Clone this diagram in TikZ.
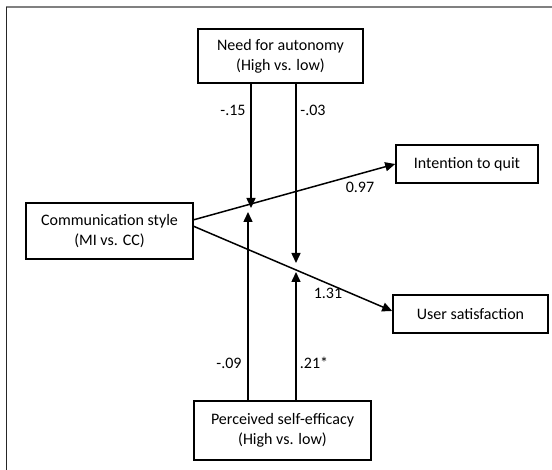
\documentclass[tikz,border=0pt]{standalone}
\usepackage{fontspec}
\setmainfont{Carlito}
\usetikzlibrary{arrows.meta}

\begin{document}
\begin{tikzpicture}[x=1pt,y=-1pt,
	box/.style={draw, line width=1.6pt, align=center, inner sep=0pt,
		font=\fontsize{16}{20}\selectfont},
	path/.style={line width=1.5pt, -{Triangle[length=10pt,width=9pt]}},
	coef/.style={font=\fontsize{16}{20}\selectfont, inner sep=0pt}]

			\useasboundingbox (0,0) rectangle (552,470);
			\draw[gray, line width=1.2pt] (6,7) -- (552,7);
			\draw[black!85, line width=1.5pt] (6.5,7) -- (6.5,470);

			\node[box, minimum width=165pt, minimum height=54pt] (autonomy) at (280.5,56) {Need for autonomy\\(High vs. low)};
			\node[box, minimum width=167pt, minimum height=56pt] (comm) at (109.5,231) {Communication style\\(MI vs. CC)};
			\node[box, minimum width=142pt, minimum height=38pt] (quit) at (467,164) {Intention to quit};
			\node[box, minimum width=155pt, minimum height=38pt] (satis) at (470.5,314) {User satisfaction};
			\node[box, minimum width=177pt, minimum height=59pt] (efficacy) at (282.5,430.5) {Perceived self-efficacy\\(High vs. low)};

			\coordinate (out1) at (193,220);
\coordinate (out2) at (193,226);
\coordinate (tipA) at (251,208);
\coordinate (tipB) at (248,212);
\coordinate (tipC) at (296,263);
\coordinate (tipD) at (296,272);

			\draw[path] (out1) -- (quit.west);
			\draw[path] (out2) -- ([yshift=3pt]satis.west);
			\draw[path] (autonomy.south -| tipA) -- (tipA);
\draw[path] (autonomy.south -| tipC) -- (tipC);
\draw[path] (efficacy.north -| tipB) -- (tipB);
\draw[path] (efficacy.north -| tipD) -- (tipD);

			\node[coef] (c1) at (233,110) {-.15};
\node[coef] (c2) at (313,110) {-.03};
\node[coef] (c3) at (360,187) {0.97};
\node[coef] (c4) at (328,293) {1.31};
\node[coef] (c5) at (229,363) {-.09};
\node[coef] (c6) at (314,363) {.21*};

		\end{tikzpicture}
\end{document}
